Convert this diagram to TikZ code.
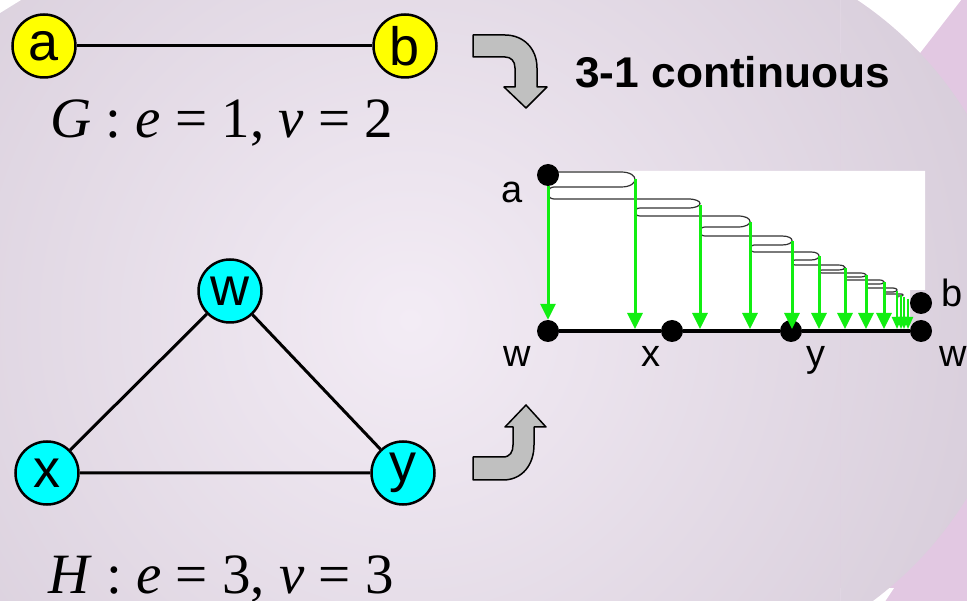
\documentclass[tikz,border=0pt]{standalone}
\usepackage{fontspec}
\setmainfont{Liberation Serif}
\setsansfont{Liberation Sans}
\usetikzlibrary{arrows.meta,positioning,calc}
\definecolor{bglight}{HTML}{F3ECF5}
\definecolor{bgdark}{HTML}{D3C8D6}
\definecolor{lilac}{HTML}{E2C8E2}
\definecolor{vyellow}{HTML}{FFFF00}
\definecolor{vcyan}{HTML}{00FFFF}
\definecolor{bendgrey}{HTML}{C0C0C0}
\definecolor{dropgreen}{HTML}{11EE11}

\begin{document}
\begin{tikzpicture}[x=1pt,y=-1pt,
  every node/.style={font=\sffamily},
  vtx/.style={circle, draw=black, line width=2.5pt, minimum size=63pt, inner sep=0pt, font=\sffamily\fontsize{54}{54}\selectfont},
  gvtx/.style={vtx, fill=vyellow},
  hvtx/.style={vtx, fill=vcyan},
  link/.style={line width=3pt},
  dot/.style={circle, fill=black, minimum size=22pt, inner sep=0pt},
  plabel/.style={font=\sffamily\fontsize{38}{38}\selectfont, inner sep=0pt, anchor=base},
  eqtext/.style={font=\rmfamily\fontsize{57}{57}\selectfont, inner sep=0pt, anchor=base west},
  headline/.style={font=\sffamily\bfseries\fontsize{43}{43}\selectfont, inner sep=0pt, anchor=base west, xscale=1.03},
  bendarrow/.style={fill=bendgrey, draw=black, line width=1.5pt, line join=round},
  drop/.style={draw=dropgreen, line width=3pt, -{Triangle[width=15pt,length=16pt]}},
  smalldrop/.style={drop, line width=2pt, -{Triangle[width=10pt,length=12pt]}},
  coil/.style={draw=black!80, line width=1.2pt}
]
\useasboundingbox (0,0) rectangle (967,601);
\clip (0,0) rectangle (967,601);

% slide background
\fill[bgdark] (0,0) rectangle (967,601);
\shade[inner color=bglight, outer color=bgdark] (410,320) circle (720);
\fill[white] (0,0) -- (21,0) -- (0,13) -- cycle;
\begin{scope}[even odd rule]
  \clip (840,-5) rectangle (972,606) (653,306) circle (368);
  \fill[lilac] (840,-5) rectangle (972,606);
  \fill[white] (840,-5) -- (965,-5) -- (920,53) -- (840,53) -- cycle;
  \fill[white] (840,606) -- (882,606) -- (894,588) -- (840,588) -- cycle;
\end{scope}

% G
\node[gvtx] (a) at (44,46) {a};
\node[gvtx] (b) at (405,46) {b};
\draw[link] (a) -- (b);
\node[eqtext] (geq) at (50,138) {\textit{G} : \textit{e} = 1, \textit{v} = 2};

% H
\node[hvtx] (w) at (230,291) {w};
\node[hvtx] (x) at (47,473) {x};
\node[hvtx] (y) at (403,473) {y};
\draw[link] (w) -- (x) (w) -- (y) (x) -- (y);
\node[eqtext] (heq) at (48,593) {\textit{H} : \textit{e} = 3, \textit{v} = 3};

% bent arrows
\draw[bendarrow] (473,35) -- (505,35) .. controls (523,35) and (537,48) .. (537,68)
  -- (537,87) -- (547,87) -- (526,108) -- (504,87) -- (515,87) -- (515,68)
  .. controls (515,61) and (511,57) .. (505,57) -- (473,57) -- cycle;
\draw[bendarrow] (473,457) -- (503,457) .. controls (510,457) and (513,452) .. (513,445)
  -- (513,427) -- (505,427) -- (526,405) -- (546,427) -- (534,427) -- (534,445)
  .. controls (534,465) and (522,480) .. (503,480) -- (473,480) -- cycle;

\node[headline] (ttl) at (575,88) {3-1 continuous};

% the map picture
\fill[white] (547,171) -- (925,171) -- (925,290) -- (910,290) -- (910,331) -- (547,331) -- cycle;
\draw[coil] (548,172)
  \foreach \xp/\xb/\ya/\yb/\yc/\w/\u in {548/635/172/187/199/14/6, 635/700/199/208/216/12/5,
      700/750/216/227/236/12/5, 750/792/236/245/252/10/4, 792/819/252/260/265/8/3,
      819/845/265/270/273/7/3, 845/866/273/277/280/6/2, 866/884/280/284/288/5/2,
      884/897/288/292/294/4/2, 897/903/294/296/298/2/1}
  { -- (\xb-\w,\ya) .. controls (\xb+\w/3,\ya) and (\xb+\w/3,\yb) .. (\xb-\w,\yb)
    -- (\xp+\u,\yb) .. controls (\xp-\u/3,\yb) and (\xp-\u/3,\yc) .. (\xp+\u,\yc) };

\node[dot] (pa) at (548,175) {};
\node[dot] (pw) at (548,331) {};
\node[dot] (px) at (672,331) {};
\node[dot] (py) at (791,331) {};
\node[dot] (pw2) at (921,331) {};
\node[dot] (pb) at (921,303) {};
\draw[line width=4pt] (pw) -- (px) -- (py) -- (pw2);

\draw[drop] (pa) -- (pw);
\foreach \xb/\ys in {635/179, 700/205, 750/222, 792/241, 819/256, 845/268, 866/275, 884/282}
  \draw[drop] (\xb,\ys) -- (\xb,329);
\foreach \xb/\ys in {897/291, 901/295, 904/297, 908/299}
  \draw[smalldrop] (\xb,\ys) -- (\xb,329);

\node[plabel] (la) at (512,203) {a};
\node[plabel] (lw) at (517,367) {w};
\node[plabel] (lx) at (651,367) {x};
\node[plabel] (ly) at (816,367) {y};
\node[plabel] (lw2) at (953,367) {w};
\node[plabel] (lb) at (952,307) {b};
\end{tikzpicture}
\end{document}
